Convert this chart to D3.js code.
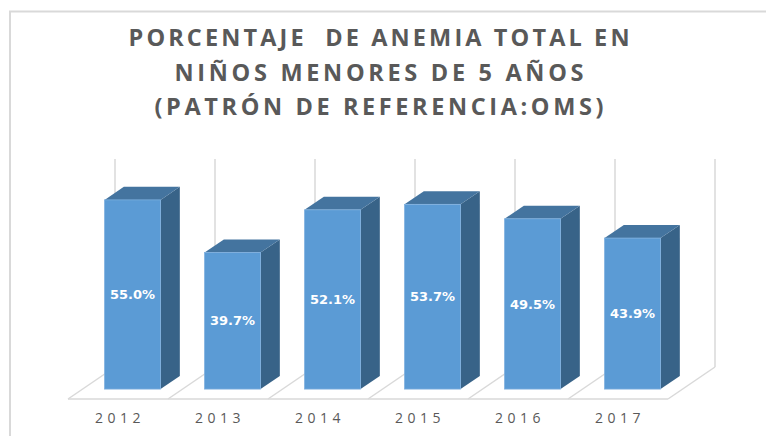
<!DOCTYPE html>
<html>
<head>
<meta charset="utf-8">
<script src="https://cdn.jsdelivr.net/npm/d3@7"></script>
<style>
  html, body { margin: 0; padding: 0; background: #fff; }
  svg { display: block; }
</style>
</head>
<body>
<svg width="766" height="436"></svg>
<script>
var years = ["2012", "2013", "2014", "2015", "2016", "2017"];
var anemia = [55.0, 39.7, 52.1, 53.7, 49.5, 43.9];
var titleLines = [
    "PORCENTAJE  DE ANEMIA TOTAL EN",
    "NIÑOS MENORES DE 5 AÑOS",
    "(PATRÓN DE REFERENCIA:OMS)"
];

var svg = d3.select("svg"),
    width = +svg.attr("width"),
    height = +svg.attr("height");

var gridColor = "#d9d9d9",
    textColor = "#595959";

// title line layout (baseline, drawn width)
var titleY = [46, 81, 115],
    titleW = [501, 409, 449];

// floor front edge and the 3d depth vector of the whole floor
var floorY = 399,
    depthX = 47,
    depthY = -32;
var barFront = 0.31,
    barBack = 0.72;

var x = d3.scaleBand()
    .domain(years)
    .range([68, 668])
    .paddingInner(0.44)
    .paddingOuter(0.22);

var y = d3.scaleLinear()
    .domain([0, 60])
    .range([floorY, floorY - 60 * 3.44]);

function px(xv, d) { return xv + depthX * d; }
function py(v, d) { return y(v) + depthY * d; }

// outer frame
svg.append("path")
    .attr("d", "M10," + height + " V11.5 H" + width)
    .attr("fill", "none")
    .attr("stroke", gridColor)
    .attr("stroke-width", 2);

// title
svg.append("g")
    .selectAll("text")
    .data(titleLines)
    .enter().append("text")
    .attr("x", 379)
    .attr("y", function (d, i) { return titleY[i]; })
    .attr("text-anchor", "middle")
    .attr("textLength", function (d, i) { return titleW[i]; })
    .attr("lengthAdjust", "spacing")
    .attr("fill", textColor)
    .style("font-family", "'Open Sans', sans-serif")
    .style("font-weight", "700")
    .style("font-size", "23.5px")
    .style("white-space", "pre")
    .text(function (d) { return d; });

// category edges on the back wall and the floor
var edges = d3.range(years.length + 1).map(function (i) {
    return x.range()[0] + i * x.step();
});

svg.append("g")
    .selectAll("line")
    .data(edges)
    .enter().append("line")
    .attr("x1", function (d) { return px(d, 1); })
    .attr("x2", function (d) { return px(d, 1); })
    .attr("y1", py(0, 1))
    .attr("y2", py(60.5, 1))
    .attr("stroke", gridColor)
    .attr("stroke-width", 1.5);

svg.append("g")
    .selectAll("line")
    .data(edges)
    .enter().append("line")
    .attr("x1", function (d) { return px(d, 0); })
    .attr("x2", function (d) { return px(d, 1); })
    .attr("y1", py(0, 0))
    .attr("y2", py(0, 1))
    .attr("stroke", gridColor)
    .attr("stroke-width", 1.5);

svg.append("line")
    .attr("x1", edges[0])
    .attr("x2", edges[edges.length - 1])
    .attr("y1", floorY)
    .attr("y2", floorY)
    .attr("stroke", gridColor)
    .attr("stroke-width", 1.5);

// bars
var bars = svg.append("g")
    .selectAll("g")
    .data(years.map(function (yr, i) { return { year: yr, value: anemia[i] }; }))
    .enter().append("g");

function poly(pts) {
    return "M" + pts.map(function (p) { return p.join(","); }).join("L") + "Z";
}

bars.append("path")
    .attr("fill", "#386388")
    .attr("d", function (d) {
        var r = x(d.year) + x.bandwidth();
        return poly([
            [px(r, barFront), py(0, barFront)],
            [px(r, barBack), py(0, barBack)],
            [px(r, barBack), py(d.value, barBack)],
            [px(r, barFront), py(d.value, barFront)]
        ]);
    });

bars.append("path")
    .attr("fill", "#44749f")
    .attr("d", function (d) {
        var l = x(d.year), r = l + x.bandwidth();
        return poly([
            [px(l, barFront), py(d.value, barFront)],
            [px(r, barFront), py(d.value, barFront)],
            [px(r, barBack), py(d.value, barBack)],
            [px(l, barBack), py(d.value, barBack)]
        ]);
    });

bars.append("rect")
    .attr("x", function (d) { return px(x(d.year), barFront); })
    .attr("y", function (d) { return py(d.value, barFront); })
    .attr("width", x.bandwidth())
    .attr("height", function (d) { return py(0, barFront) - py(d.value, barFront); })
    .attr("fill", "#5b9bd5")
    .attr("stroke", "#7fb0df")
    .attr("stroke-width", 0.8);

bars.append("text")
    .attr("x", function (d) { return px(x(d.year), barFront) + x.bandwidth() / 2; })
    .attr("y", function (d) { return (py(0, barFront) + py(d.value, barFront)) / 2; })
    .attr("dy", "0.36em")
    .attr("text-anchor", "middle")
    .attr("fill", "#ffffff")
    .style("font-family", "'DejaVu Sans', sans-serif")
    .style("font-weight", "bold")
    .style("font-size", "13px")
    .text(function (d) { return d.value.toFixed(1) + "%"; });

// year labels
svg.append("g")
    .selectAll("text")
    .data(years)
    .enter().append("text")
    .attr("x", function (d) { return x(d) + x.bandwidth() / 2 + 2; })
    .attr("y", 423)
    .attr("text-anchor", "middle")
    .attr("fill", textColor)
    .style("font-family", "'Open Sans', sans-serif")
    .style("font-size", "14px")
    .style("letter-spacing", "4.5px")
    .text(function (d) { return d; });
</script>
</body>
</html>
